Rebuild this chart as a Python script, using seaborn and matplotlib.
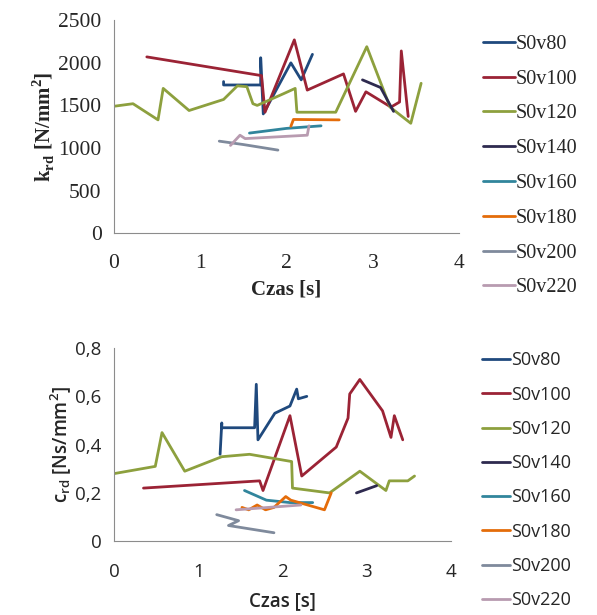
import numpy as np
import pandas as pd
import matplotlib
matplotlib.use('Agg')
import matplotlib.pyplot as plt
import seaborn as sns

# nazwy serii i kolory
serie = ['S0v80', 'S0v100', 'S0v120', 'S0v140', 'S0v160', 'S0v180', 'S0v200', 'S0v220']
kolory = ['#1F497D', '#9B2335', '#8DA03E', '#2E2A4F', '#31859C', '#E46C0A', '#7F8A9C', '#B89BB0']

# k_rd [N/mm2] w funkcji czasu
k_t = {
    'S0v80':  [1.27, 1.27, 1.70, 1.70, 1.73, 2.05, 2.17, 2.30],
    'S0v100': [0.38, 1.71, 1.75, 2.09, 2.24, 2.66, 2.80, 2.92, 3.21, 3.31, 3.33, 3.41],
    'S0v120': [0.00, 0.22, 0.51, 0.57, 0.87, 1.27, 1.43, 1.54, 1.61, 1.66, 1.97, 2.10, 2.12, 2.57, 2.93, 3.20, 3.44, 3.56],
    'S0v140': [2.88, 3.09, 3.24],
    'S0v160': [1.57, 2.00, 2.40],
    'S0v180': [2.05, 2.08, 2.61],
    'S0v200': [1.22, 1.50, 1.90],
    'S0v220': [1.35, 1.46, 1.52, 2.24, 2.26],
}
k_v = {
    'S0v80':  [1780, 1740, 1740, 2060, 1400, 2000, 1800, 2100],
    'S0v100': [2070, 1850, 1420, 2270, 1680, 1870, 1430, 1660, 1480, 1540, 2140, 1370],
    'S0v120': [1490, 1520, 1330, 1700, 1440, 1570, 1730, 1720, 1520, 1500, 1640, 1700, 1420, 1420, 2190, 1480, 1290, 1760],
    'S0v140': [1800, 1710, 1430],
    'S0v160': [1175, 1230, 1260],
    'S0v180': [1255, 1335, 1330],
    'S0v200': [1080, 1040, 975],
    'S0v220': [1030, 1150, 1110, 1150, 1260],
}

# c_rd [Ns/mm2] w funkcji czasu
c_t = {
    'S0v80':  [1.26, 1.28, 1.28, 1.67, 1.69, 1.71, 1.91, 2.09, 2.17, 2.19, 2.29],
    'S0v100': [0.35, 1.73, 1.77, 2.09, 2.23, 2.64, 2.78, 2.80, 2.92, 3.19, 3.29, 3.33, 3.43],
    'S0v120': [0.00, 0.49, 0.57, 0.84, 1.28, 1.61, 2.11, 2.12, 2.56, 2.92, 3.23, 3.27, 3.49, 3.57],
    'S0v140': [2.88, 3.12],
    'S0v160': [1.55, 1.81, 2.09, 2.36],
    'S0v180': [1.52, 1.60, 1.70, 1.80, 1.90, 2.04, 2.10, 2.50, 2.58],
    'S0v200': [1.22, 1.48, 1.36, 1.90],
    'S0v220': [1.45, 2.22],
}
c_v = {
    'S0v80':  [0.36, 0.49, 0.47, 0.47, 0.65, 0.42, 0.53, 0.56, 0.63, 0.59, 0.60],
    'S0v100': [0.22, 0.25, 0.21, 0.52, 0.27, 0.39, 0.51, 0.61, 0.67, 0.54, 0.43, 0.52, 0.42],
    'S0v120': [0.28, 0.31, 0.45, 0.29, 0.35, 0.36, 0.33, 0.22, 0.20, 0.29, 0.21, 0.25, 0.25, 0.27],
    'S0v140': [0.20, 0.23],
    'S0v160': [0.21, 0.17, 0.16, 0.16],
    'S0v180': [0.14, 0.13, 0.15, 0.13, 0.14, 0.185, 0.17, 0.13, 0.20],
    'S0v200': [0.11, 0.085, 0.065, 0.035],
    'S0v220': [0.13, 0.15],
}


def do_tabeli(czasy, wartosci):
    wiersze = []
    for s in serie:
        for t, v in zip(czasy[s], wartosci[s]):
            wiersze.append({'seria': s, 'czas': t, 'wartosc': v})
    return pd.DataFrame(wiersze)


sns.set_style('white')
paleta = dict(zip(serie, kolory))

fig = plt.figure(figsize=(5.97, 6.15), dpi=100)
ax1 = fig.add_axes([0.191, 0.621, 0.578, 0.346])
ax2 = fig.add_axes([0.191, 0.120, 0.564, 0.314])

szary = '#8C8C8C'

# --- wykres górny (k_rd), czcionka szeryfowa ---
serif = ['Liberation Serif', 'DejaVu Serif']
sns.lineplot(data=do_tabeli(k_t, k_v), x='czas', y='wartosc', hue='seria',
             palette=paleta, sort=False, estimator=None, linewidth=2, ax=ax1)
ax1.set_xlim(0, 4)
ax1.set_ylim(0, 2500)
ax1.set_xticks([0, 1, 2, 3, 4])
ax1.set_yticks([0, 500, 1000, 1500, 2000, 2500])
ax1.set_xlabel('Czas [s]', family=serif, fontsize=15, fontweight='bold', labelpad=5)
ax1.set_ylabel('k$_{\\mathregular{rd}}$ [N/mm$^{\\mathregular{2}}$]', family=serif,
               fontsize=15, fontweight='bold', labelpad=1)
for lab in ax1.get_xticklabels() + ax1.get_yticklabels():
    lab.set_family(serif)
    lab.set_fontsize(15.5)
ax1.tick_params(axis='x', length=5, width=1, color=szary, pad=10)
ax1.tick_params(axis='y', length=5, width=1, color=szary, pad=4)
ax1.legend(loc='upper left', bbox_to_anchor=(1.045, 0.97), frameon=False,
           prop={'family': serif, 'size': 14.5}, handlelength=1.6, handletextpad=0.05,
           labelspacing=0.78, borderaxespad=0)

# --- wykres dolny (c_rd), czcionka bezszeryfowa ---
sans = ['Open Sans', 'DejaVu Sans']
sns.lineplot(data=do_tabeli(c_t, c_v), x='czas', y='wartosc', hue='seria',
             palette=paleta, sort=False, estimator=None, linewidth=2, ax=ax2)
ax2.set_xlim(0, 4)
ax2.set_ylim(0, 0.8)
ax2.set_xticks([0, 1, 2, 3, 4])
ax2.set_yticks([0, 0.2, 0.4, 0.6, 0.8])
ax2.set_yticklabels(['0', '0,2', '0,4', '0,6', '0,8'])
ax2.set_xlabel('Czas [s]', family=sans, fontsize=13.5, fontweight='semibold', labelpad=7)
ax2.set_ylabel('c$_{\\mathregular{rd}}$ [Ns/mm$^{\\mathregular{2}}$]', family=sans,
               fontsize=13.5, fontweight='semibold', labelpad=1)
for lab in ax2.get_xticklabels() + ax2.get_yticklabels():
    lab.set_family(sans)
    lab.set_fontsize(13.5)
ax2.tick_params(axis='x', length=5, width=1, color=szary, pad=11)
ax2.tick_params(axis='y', length=5, width=1, color=szary, pad=4)
ax2.legend(loc='upper left', bbox_to_anchor=(1.07, 1.02), frameon=False,
           prop={'family': sans, 'size': 13}, handlelength=1.6, handletextpad=0.05,
           labelspacing=0.9, borderaxespad=0)

for ax in (ax1, ax2):
    sns.despine(ax=ax)
    ax.spines['left'].set_color(szary)
    ax.spines['bottom'].set_color(szary)

fig.savefig('out.png', dpi=100, facecolor='white')
